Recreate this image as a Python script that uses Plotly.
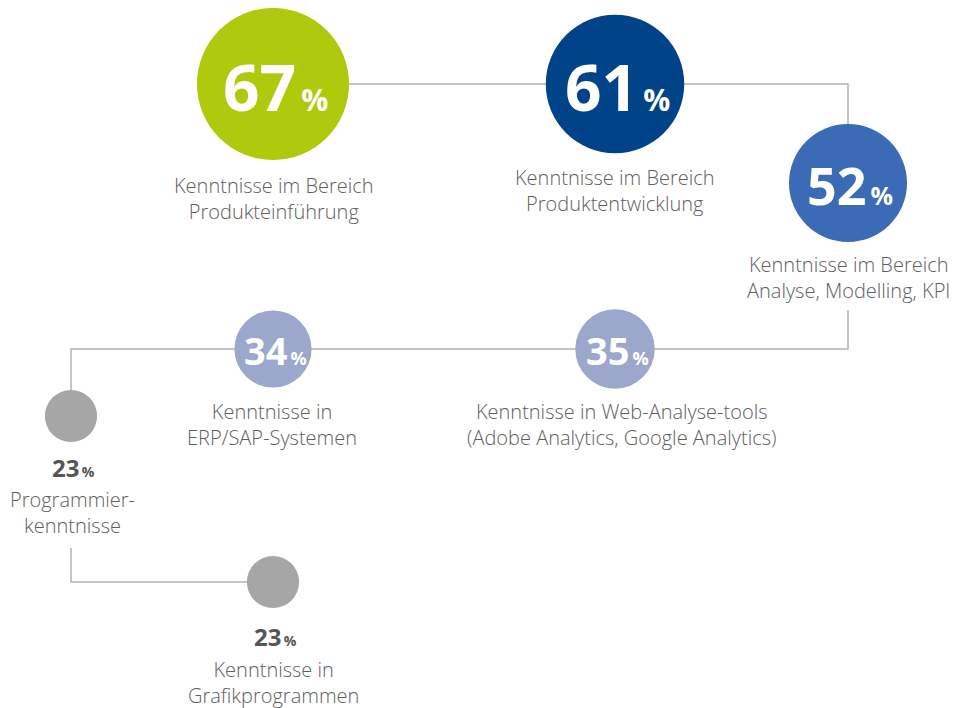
import plotly.graph_objects as go

# data
werte = [67, 61, 52, 35, 34, 23, 23]
texte = [
    "Kenntnisse im Bereich<br>Produkteinführung",
    "Kenntnisse im Bereich<br>Produktentwicklung",
    "Kenntnisse im Bereich<br>Analyse, Modelling, KPI",
    "Kenntnisse in Web-Analyse-tools<br>(Adobe Analytics, Google Analytics)",
    "Kenntnisse in<br>ERP/SAP-Systemen",
    "Programmier-<br>kenntnisse",
    "Kenntnisse in<br>Grafikprogrammen",
]

# layout of the infographic (pixel grid)
pos_x = [273, 615, 848, 615, 273, 71, 273]
pos_y = [84, 84, 183, 349, 349, 416, 582]
farben = ["#afc90d", "#004389", "#3a6bb4", "#9ba8cb", "#9ba8cb", "#a6a6a6", "#a6a6a6"]
text_x = [274, 615, 848, 621, 272, 72, 273]
text_y = [198, 190, 277, 424, 424, 512, 682]
zahl_innen = [True, True, True, True, True, False, False]
zahl_y = [86, 86, 184, 350, 350, 467, 636]
zahl_gr = [64, 64, 52, 38, 38, 24, 24]
proz_gr = [30, 30, 25, 18, 18, 14, 14]
skala = 2.27  # durchmesser px pro prozentpunkt
rand = 8  # body margin der html-seite

fig = go.Figure()

# verbindungslinie
lx = [273, 848, 848, None, 848, 848, 71, 71, None, 71, 71, 273]
ly = [84, 84, 124, None, 310, 349, 349, 390, None, 548, 582, 582]
fig.add_trace(go.Scatter(x=lx, y=ly, mode="lines", line=dict(color="#b3b3b3", width=1.5),
                         hoverinfo="skip", showlegend=False))

fig.add_trace(go.Scatter(
    x=pos_x, y=pos_y, mode="markers",
    marker=dict(size=[v * skala for v in werte], color=farben, opacity=1, line=dict(width=0)),
    hoverinfo="skip", showlegend=False))

for i, v in enumerate(werte):
    farbe = "white" if zahl_innen[i] else "#555555"
    fig.add_annotation(
        x=pos_x[i] + 2, y=zahl_y[i], xref="x", yref="y", showarrow=False,
        text=f"<b>{v}</b><span style='font-size:{proz_gr[i]}px'><b>\u2009%</b></span>",
        font=dict(family="Open Sans", size=zahl_gr[i], color=farbe),
        xanchor="center", yanchor="middle")
    fig.add_annotation(
        x=text_x[i], y=text_y[i], xref="x", yref="y", showarrow=False,
        text=texte[i], align="center",
        font=dict(family="Open Sans", size=20, color="#5e5e5e", weight=300),
        xanchor="center", yanchor="middle")

fig.update_layout(
    width=957 - rand, height=708 - rand,
    margin=dict(l=0, r=0, t=0, b=0),
    paper_bgcolor="white", plot_bgcolor="white",
    xaxis=dict(range=[rand, 957], visible=False, fixedrange=True),
    yaxis=dict(range=[708, rand], visible=False, fixedrange=True),
)

fig.write_html("out.html")
